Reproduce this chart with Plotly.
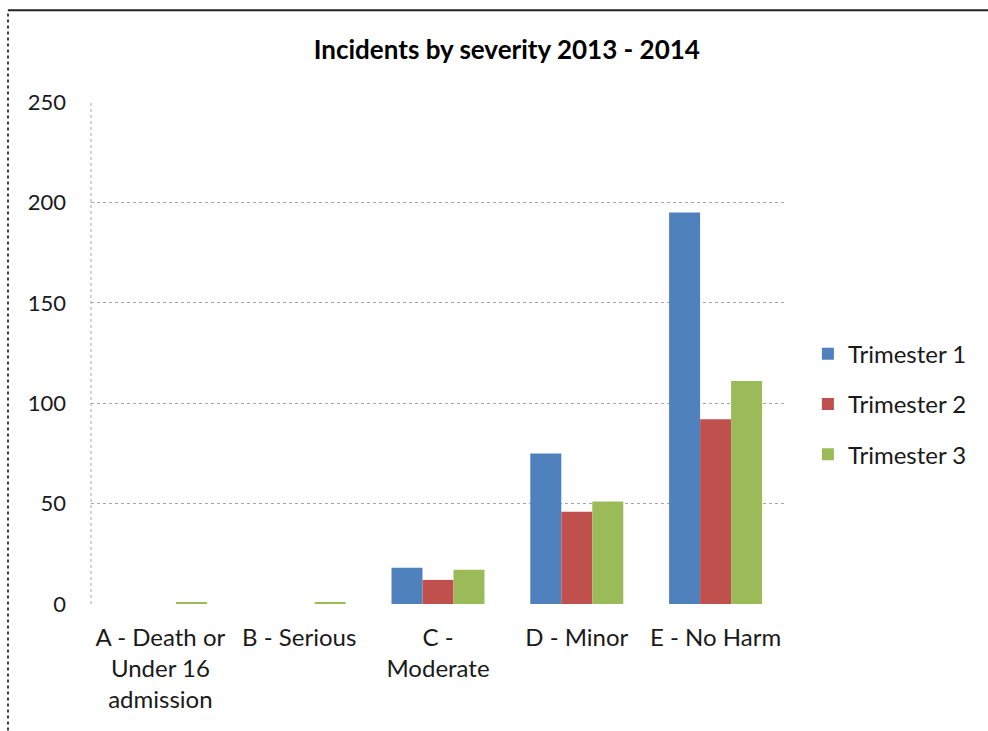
import plotly.graph_objects as go

# Incident counts per severity band, one list per trimester
categories = [
    "A - Death or<br>Under 16<br>admission",
    "B - Serious",
    "C -<br>Moderate",
    "D - Minor",
    "E - No Harm",
]
trimester_1 = [0, 0, 18, 75, 195]
trimester_2 = [0, 0, 12, 46, 92]
trimester_3 = [1, 1, 17, 51, 111]
y_ticks = [0, 50, 100, 150, 200, 250]

series = [
    ("Trimester 1", trimester_1, "#4F81BD"),
    ("Trimester 2", trimester_2, "#C0504D"),
    ("Trimester 3", trimester_3, "#9BBB59"),
]

font_family = "Lato, 'Open Sans', sans-serif"

fig = go.Figure()
for name, values, color in series:
    fig.add_trace(go.Bar(
        name=name,
        legendgroup=name,
        x=categories,
        y=values,
        marker=dict(color=color, line=dict(width=0)),
    ))

fig.update_layout(
    width=988,
    height=731,
    margin=dict(l=91, r=203, t=102, b=127),
    paper_bgcolor="white",
    plot_bgcolor="white",
    barmode="group",
    bargap=0.33,
    bargroupgap=0,
    font=dict(family=font_family, size=22, color="#262626"),
    title=dict(
        text="<b>Incidents by severity 2013 - 2014</b>",
        x=0.513, xref="container", xanchor="center",
        y=0.932, yref="container", yanchor="middle",
        font=dict(family=font_family, size=26, color="#000000"),
    ),
    legend=dict(
        x=1.033, xanchor="left",
        y=0.398, yanchor="middle",
        font=dict(family=font_family, size=24, color="#1a1a1a"),
        tracegroupgap=16,
        itemwidth=30,
    ),
    xaxis=dict(
        showgrid=False,
        showline=False,
        ticks="",
        ticklabelstandoff=17,
        tickfont=dict(family=font_family, size=24, color="#1a1a1a"),
    ),
    yaxis=dict(
        range=[0, 250],
        tickvals=y_ticks,
        showgrid=True,
        gridcolor="#A6A6A6",
        griddash="dot",
        gridwidth=1,
        zeroline=False,
        showline=False,
        ticks="",
        ticklabelstandoff=24,
        tickfont=dict(family=font_family, size=22, color="#1a1a1a"),
    ),
    shapes=[
        # dotted vertical axis line
        dict(type="line", xref="paper", yref="paper", x0=0, x1=0, y0=0, y1=1,
             line=dict(color="#A6A6A6", width=1, dash="dot")),
        # outer chart frame: left and top edges
        dict(type="line", xref="paper", yref="paper", x0=-0.1196, x1=-0.1196,
             y0=-0.3, y1=1.183, line=dict(color="#444444", width=2, dash="dot")),
        dict(type="line", xref="paper", yref="paper", x0=-0.1196, x1=1.4,
             y0=1.183, y1=1.183, line=dict(color="#222222", width=2)),
    ],
)

fig.write_html("out.html")
